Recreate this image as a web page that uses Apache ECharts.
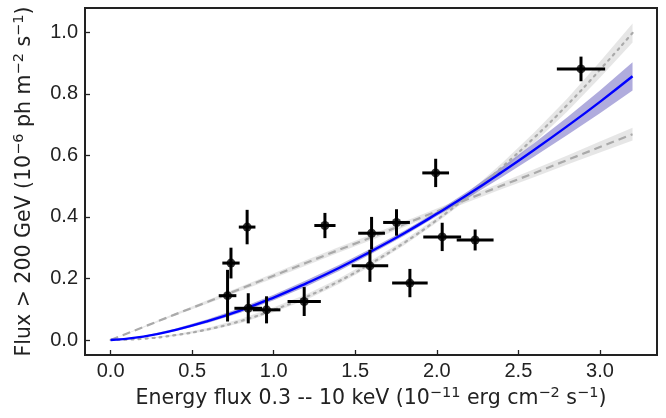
<!DOCTYPE html>
<html>
<head>
<meta charset="utf-8">
<script src="https://cdn.jsdelivr.net/npm/echarts@6/dist/echarts.min.js"></script>
<style>
  html, body { margin: 0; padding: 0; background: #fff; }
  #chart { width: 666px; height: 418px; }
</style>
</head>
<body>
<div id="chart"></div>
<script>
const ptX    = [0.717, 0.738, 0.837, 0.844, 0.956, 1.187, 1.314, 1.600, 1.590, 1.753, 1.835, 1.993, 2.033, 2.235, 2.884];
const ptY    = [0.144, 0.250, 0.367, 0.103, 0.098, 0.125, 0.372, 0.347, 0.241, 0.382, 0.185, 0.543, 0.335, 0.325, 0.881];
const ptXErr = [0.054, 0.053, 0.051, 0.085, 0.085, 0.102, 0.065, 0.082, 0.112, 0.082, 0.109, 0.082, 0.116, 0.113, 0.148];
const ptYErr = [0.084, 0.050, 0.056, 0.049, 0.044, 0.047, 0.041, 0.053, 0.052, 0.043, 0.046, 0.046, 0.046, 0.034, 0.040];

// Model curves, sampled on a common grid.
const curveX     = [0, 0.2, 0.4, 0.6, 0.8, 1.0, 1.2, 1.4, 1.6, 1.8, 2.0, 2.2, 2.4, 2.6, 2.8, 3.0, 3.2];
const powerFit   = [0, 0.011, 0.033, 0.062, 0.097, 0.138, 0.184, 0.234, 0.289, 0.347, 0.410, 0.476, 0.546, 0.619, 0.695, 0.774, 0.857];
const powerLo    = [0, 0.009, 0.029, 0.056, 0.089, 0.129, 0.174, 0.224, 0.280, 0.339, 0.402, 0.465, 0.530, 0.597, 0.666, 0.737, 0.811];
const powerHi    = [0, 0.013, 0.037, 0.068, 0.105, 0.147, 0.194, 0.244, 0.298, 0.355, 0.418, 0.487, 0.562, 0.641, 0.724, 0.811, 0.903];
const linearFit  = [0, 0.042, 0.084, 0.125, 0.167, 0.209, 0.251, 0.293, 0.334, 0.376, 0.418, 0.460, 0.502, 0.543, 0.585, 0.627, 0.669];
const linearLo   = [0, 0.040, 0.080, 0.119, 0.160, 0.201, 0.242, 0.284, 0.325, 0.367, 0.409, 0.450, 0.491, 0.530, 0.570, 0.609, 0.648];
const linearHi   = [0, 0.044, 0.088, 0.131, 0.174, 0.217, 0.260, 0.302, 0.343, 0.385, 0.427, 0.470, 0.513, 0.556, 0.600, 0.645, 0.690];
const quadFit    = [0, 0.004, 0.016, 0.035, 0.062, 0.098, 0.140, 0.191, 0.250, 0.316, 0.390, 0.472, 0.562, 0.659, 0.764, 0.878, 0.998];
const quadLo     = [0, 0.003, 0.013, 0.030, 0.055, 0.090, 0.131, 0.182, 0.241, 0.308, 0.382, 0.462, 0.549, 0.642, 0.743, 0.852, 0.967];
const quadHi     = [0, 0.005, 0.019, 0.040, 0.069, 0.106, 0.149, 0.200, 0.259, 0.324, 0.398, 0.482, 0.575, 0.676, 0.785, 0.904, 1.029];

const xTicks = [0, 0.5, 1.0, 1.5, 2.0, 2.5, 3.0];
const yTicks = [0, 0.2, 0.4, 0.6, 0.8, 1.0];

const INK = "#222";
const FONT = "Liberation Sans";
const TITLE_FONT = "DejaVu Sans";

const pairs = (xs, ys) => xs.map((x, i) => [x, ys[i]]);

// Shaded confidence band drawn as one polygon through the axis scales.
function band(lo, hi, color) {
  return {
    type: "custom",
    silent: true,
    z: 1,
    data: [[curveX[0], lo[0]], [curveX[curveX.length - 1], hi[hi.length - 1]]],
    encode: { x: 0, y: 1 },
    renderItem: (params, api) => {
      if (params.dataIndex !== 0) return null;
      const top = curveX.map((x, i) => api.coord([x, hi[i]]));
      const bot = curveX.map((x, i) => api.coord([x, lo[i]])).reverse();
      return { type: "polygon", shape: { points: top.concat(bot) }, style: { fill: color } };
    },
  };
}

const axisCommon = {
  type: "value",
  axisLine: { show: true, onZero: false, lineStyle: { color: INK, width: 2 } },
  axisTick: { show: true, inside: true, length: 5, lineStyle: { color: INK, width: 1.3 } },
  splitLine: { show: false },
  nameLocation: "middle",
};

const tickLabel = { formatter: (v) => v.toFixed(1), color: INK, fontFamily: FONT, fontSize: 20 };

const rich = {
  a: { fontFamily: TITLE_FONT, fontSize: 20.5, color: INK, lineHeight: 26 },
  s: { fontFamily: TITLE_FONT, fontSize: 14.5, color: INK, lineHeight: 14, verticalAlign: "top" },
};

const chart = echarts.init(document.getElementById("chart"), null, { renderer: "canvas" });
chart.setOption({
  animation: false,
  grid: { left: 85, right: 9, top: 8, bottom: 63, show: true, borderColor: INK, borderWidth: 2, backgroundColor: "transparent" },
  xAxis: {
    ...axisCommon,
    min: -0.157,
    max: 3.35,
    axisTick: { ...axisCommon.axisTick, customValues: xTicks },
    axisLabel: { ...tickLabel, customValues: xTicks, margin: 6 },
    name: "{a|Energy flux 0.3 -- 10 keV (10}{s|\u221211}{a| erg cm}{s|\u22122}{a| s}{s|\u22121}{a|)}",
    nameGap: 30,
    nameTextStyle: { rich },
  },
  yAxis: {
    ...axisCommon,
    min: -0.0488,
    max: 1.079,
    axisTick: { ...axisCommon.axisTick, customValues: yTicks },
    axisLabel: { ...tickLabel, customValues: yTicks, margin: 7 },
    name: "{a|Flux > 200 GeV (10}{s|\u22126}{a| ph m}{s|\u22122}{a| s}{s|\u22121}{a|)}",
    nameGap: 47,
    nameTextStyle: { rich },
  },
  series: [
    band(quadLo, quadHi, "rgba(200,200,200,0.45)"),
    band(linearLo, linearHi, "rgba(200,200,200,0.45)"),
    band(powerLo, powerHi, "rgba(80,70,180,0.45)"),
    {
      type: "line", data: pairs(curveX, quadFit), smooth: true, showSymbol: false, z: 2,
      lineStyle: { color: "#aaa", width: 2.2, type: [2, 5], cap: "round" },
    },
    {
      type: "line", data: pairs(curveX, linearFit), showSymbol: false, z: 2,
      lineStyle: { color: "#aaa", width: 2.2, type: [8, 5] },
    },
    {
      type: "line", data: pairs(curveX, powerFit), smooth: true, showSymbol: false, z: 3,
      lineStyle: { color: "#0000ff", width: 2.4 },
    },
    {
      type: "custom",
      z: 4,
      data: ptX.map((x, i) => [x, ptY[i], ptXErr[i], ptYErr[i]]),
      encode: { x: 0, y: 1 },
      renderItem: (params, api) => {
        const x = api.value(0), y = api.value(1), ex = api.value(2), ey = api.value(3);
        const l = api.coord([x - ex, y]), r = api.coord([x + ex, y]);
        const t = api.coord([x, y + ey]), b = api.coord([x, y - ey]);
        const st = { stroke: "#000", lineWidth: 3 };
        return {
          type: "group",
          children: [
            { type: "line", shape: { x1: l[0], y1: l[1], x2: r[0], y2: r[1] }, style: st },
            { type: "line", shape: { x1: t[0], y1: t[1], x2: b[0], y2: b[1] }, style: st },
          ],
        };
      },
    },
    {
      type: "scatter", z: 5,
      data: pairs(ptX, ptY),
      symbol: "circle", symbolSize: 9,
      itemStyle: { color: "#000" },
    },
  ],
});
</script>
</body>
</html>
